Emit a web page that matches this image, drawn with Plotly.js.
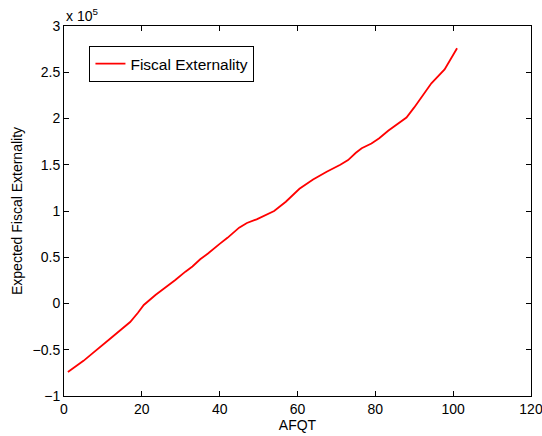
<!DOCTYPE html>
<html>
<head>
<meta charset="utf-8">
<script src="https://cdn.plot.ly/plotly-3.0.1.min.js"></script>
<style>html,body{margin:0;padding:0;background:#fff;}#chart{width:542px;height:436px;}</style>
</head>
<body>
<div id="chart"></div>
<script>
const afqt = [1, 5, 7, 10, 12, 15, 17, 19, 20.5, 23.5, 26, 28.6, 31.2, 33, 35, 37, 40, 42, 45, 47, 49.5, 52, 54, 57, 60.5, 64, 67.5, 71, 73, 75, 76.5, 79, 81, 83.3, 86, 88, 90, 91.4, 94.4, 97.8, 99.5, 101];
const fiscalExternality = [-74000, -62000, -55000, -45000, -37500, -27000, -20000, -10000, -1600, 9200, 17000, 25400, 34400, 40000, 47800, 54000, 64500, 71000, 82000, 87000, 91000, 96000, 100000, 110000, 124000, 134000, 142500, 150000, 155000, 163000, 167800, 173000, 178600, 186800, 195000, 201000, 212000, 220000, 238000, 253000, 265000, 276000];
const yTickVals = [-100000, -50000, 0, 50000, 100000, 150000, 200000, 250000, 300000];
const yTickText = ['\u22121', '\u22120.5', '0', '0.5', '1', '1.5', '2', '2.5', '3'];
const xTickVals = [0, 20, 40, 60, 80, 100, 120];

const fam = 'Liberation Sans, Arial, Helvetica, sans-serif';

Plotly.newPlot('chart', [{
  x: afqt, y: fiscalExternality, type: 'scatter', mode: 'lines',
  name: 'Fiscal Externality',
  line: {color: '#ff0000', width: 1.8}
}], {
  width: 542, height: 436,
  margin: {l: 63.5, r: 10.5, t: 26, b: 40, pad: 0},
  paper_bgcolor: '#fff', plot_bgcolor: '#fff',
  font: {family: fam, size: 14, color: '#000'},
  showlegend: true,
  legend: {x: 0.0545, y: 0.946, xanchor: 'left', yanchor: 'top', bgcolor: '#fff', bordercolor: '#000', borderwidth: 1, font: {family: fam, size: 15.5, color: '#000'}},
  xaxis: {
    range: [0, 120], tickvals: xTickVals, ticks: 'inside', ticklen: 5, tickcolor: '#000',
    showline: true, linecolor: '#000', linewidth: 1, mirror: 'ticks', showgrid: false, zeroline: false,
    ticklabeloverflow: 'allow',
    title: {text: 'AFQT', font: {family: fam, size: 14}, standoff: 0},
    tickfont: {family: fam, size: 14}
  },
  yaxis: {
    range: [-100000, 300000], tickvals: yTickVals, ticktext: yTickText, ticks: 'inside', ticklen: 5, tickcolor: '#000',
    showline: true, linecolor: '#000', linewidth: 1, mirror: 'ticks', showgrid: false, zeroline: false,
    title: {text: 'Expected Fiscal Externality', font: {family: fam, size: 14}, standoff: 6},
    tickfont: {family: fam, size: 14}
  },
  annotations: [{
    xref: 'paper', yref: 'paper', x: 0, y: 1, xanchor: 'left', yanchor: 'bottom', yshift: 0,
    text: 'x 10<sup>5</sup>', showarrow: false, font: {family: fam, size: 14, color: '#000'}
  }]
}, {displayModeBar: false, staticPlot: true});
</script>
</body>
</html>
